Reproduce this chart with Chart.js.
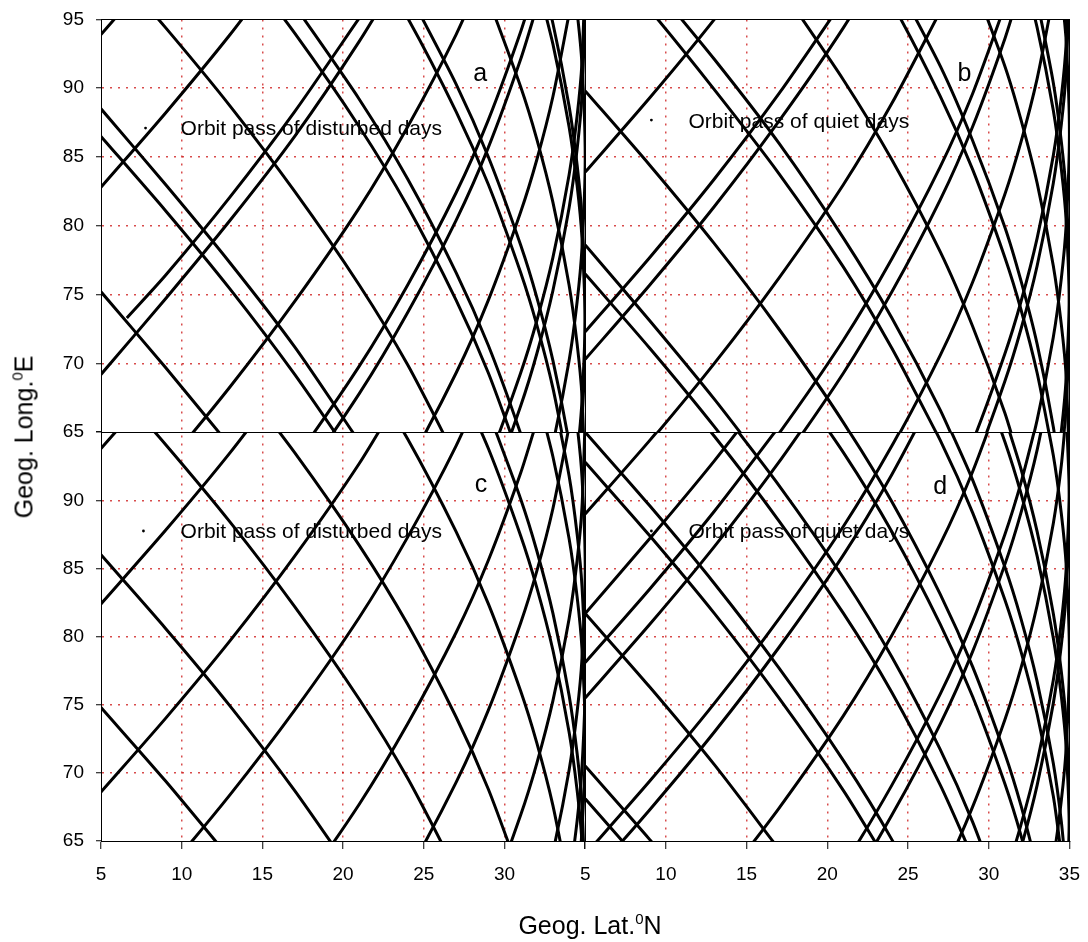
<!DOCTYPE html>
<html>
<head>
<meta charset="utf-8">
<title>Orbit passes</title>
<script src="https://cdn.jsdelivr.net/npm/chart.js@4.4.1/dist/chart.umd.min.js"></script>
<style>
  html, body { margin:0; padding:0; background:#fff; }
  #wrap { position:relative; width:1088px; height:942px; overflow:hidden; font-family:"Liberation Sans", Arial, sans-serif; }
  #chart { position:absolute; left:0; top:-4px; }
  .axt { position:absolute; white-space:nowrap; font-size:25px; color:#000; line-height:1; }
  .axt sup { font-size:15px; vertical-align:10px; line-height:0; }
  #xt { left:590px; top:913px; transform:translate(-50%,0); }
  #yt { left:24px; top:437px; transform:translate(-50%,-50%) rotate(-90deg); }
</style>
</head>
<body>
<div id="wrap">
  <canvas id="chart" width="1094" height="946"></canvas>
  <div class="axt" id="yt">Geog. Long.<sup>0</sup>E</div>
  <div class="axt" id="xt">Geog. Lat.<sup>0</sup>N</div>
</div>
<script>
// ---- tick values ----
const latTicks = [5, 10, 15, 20, 25, 30, 35];
const lonTicks = [65, 70, 75, 80, 85, 90, 95];

// ---- orbit passes: each track is a list of [lat, lon] points ----
const panelA = [
  [[5,93.9],[9,99.3]],
  [[5,99.8],[9,94.4],[13,88.7],[17,82.5],[21,75.7],[24,69.9],[27,63.1]],
  [[5,82.8],[9,88.2],[13,93.9],[17,100.1]],
  [[5,88.5],[9,83.0],[13,77.3],[17,71.2],[21,64.3]],
  [[5,86.5],[9,81.1],[13,75.4],[17,69.2],[21,62.4]],
  [[5,75.2],[9,69.7],[13,64.0]],
  [[5,69.2],[9,74.7],[13,80.4],[17,86.5],[21,93.4],[24,99.2]],
  [[6.6,73.3],[9,76.4],[13,82.1],[17,88.3],[21,95.1]],
  [[13,100.2],[17,94.0],[21,87.2],[24,81.4],[27,74.6],[29,69.3],[31,62.9]],
  [[17,96.0],[21,89.2],[24,83.4],[27,76.6],[29,71.3],[31,64.9],[32,61.1]],
  [[5,57.2],[9,62.6],[13,68.3],[17,74.5],[21,81.3],[24,87.2],[27,93.9],[29,99.2]],
  [[21,100.9],[24,95.1],[27,88.3],[29,83.0],[31,76.6],[32,72.8],[33,68.2],[34,62.2]],
  [[24,97.1],[27,90.3],[29,85.0],[31,78.6],[32,74.8],[33,70.2],[34,64.2],[34.5,59.9]],
  [[13,56.8],[17,63.0],[21,69.8],[24,75.7],[27,82.4],[29,87.7],[31,94.1],[32,97.9]],
  [[13,54.8],[17,61.0],[21,67.8],[24,73.7],[27,80.4],[29,85.7],[31,92.1],[32,95.9]],
  [[17,49.9],[21,56.7],[24,62.6],[27,69.3],[29,74.6],[31,81.0],[32,84.8],[33,89.4],[34,95.4]],
  [[27,55.2],[29,60.5],[31,66.9],[32,70.7],[33,75.3],[34,81.3],[34.5,85.6],[34.8,89.5],[35,96.1]],
  [[27,57.6],[29,62.9],[31,69.3],[32,73.1],[33,77.7],[34,83.7],[34.5,88.0],[34.8,91.9],[35,98.5]],
  [[29,49.4],[31,55.8],[32,59.6],[33,64.2],[34,70.2],[34.5,74.5],[34.8,78.4],[35,85.0],[34.8,91.7],[34.5,95.5],[34,99.8]],
  [[33,51.6],[34,57.6],[34.5,61.9],[34.8,65.8],[35,72.4],[34.8,79.1],[34.5,82.9],[34,87.2],[33,93.2],[32,97.8]],
  [[33,53.1],[34,59.1],[34.5,63.4],[34.8,67.3],[35,73.9],[34.8,80.6],[34.5,84.4],[34,88.7],[33,94.7],[32,99.3]],
  [[29,96.5],[31,90.1],[32,86.3],[33,81.7],[34,75.7],[34.5,71.4],[34.8,67.6],[35,60.9]]
];

const panelB = [
  [[5,89.8],[9,84.4],[13,78.7],[17,72.5],[21,65.7],[24,59.8]],
  [[5,83.9],[9,89.3],[13,95.0],[17,101.2]],
  [[5,101.1],[9,95.7],[13,89.9],[17,83.8],[21,77.0],[24,71.1],[27,64.4]],
  [[9,97.8],[13,92.1],[17,86.0],[21,79.1],[24,73.3],[27,66.6],[29,61.3]],
  [[17,97.5],[21,90.6],[24,84.8],[27,78.1],[29,72.7],[31,66.4],[32,62.5]],
  [[5,72.3],[9,77.7],[13,83.4],[17,89.6],[21,96.4]],
  [[5,70.3],[9,75.7],[13,81.4],[17,87.6],[21,94.4],[24,100.3]],
  [[21,102.0],[24,96.2],[27,89.4],[29,84.1],[31,77.7],[32,73.9],[33,69.3],[34,63.3]],
  [[24,98.3],[27,91.6],[29,86.2],[31,79.9],[32,76.0],[33,71.4],[34,65.4],[34.5,61.1]],
  [[5,58.9],[9,64.3],[13,70.0],[17,76.2],[21,83.0],[24,88.9],[27,95.6]],
  [[29,97.9],[31,91.6],[32,87.7],[33,83.1],[34,77.1],[34.5,72.8],[34.8,69.0],[35,62.3]],
  [[13,58.7],[17,64.9],[21,71.7],[24,77.6],[27,84.3],[29,89.6],[31,96.0]],
  [[13,56.3],[17,62.5],[21,69.3],[24,75.2],[27,81.9],[29,87.2],[31,93.6],[32,97.4]],
  [[5,78.6],[9,73.1],[13,67.4],[17,61.3]],
  [[5,76.5],[9,71.1],[13,65.4],[17,59.2]],
  [[17,51.2],[21,58.0],[24,63.9],[27,70.6],[29,75.9],[31,82.3],[32,86.1],[33,90.7],[34,96.7]],
  [[27,59.0],[29,64.3],[31,70.7],[32,74.5],[33,79.1],[34,85.1],[34.5,89.4],[34.8,93.3],[35,99.9]],
  [[27,57.0],[29,62.3],[31,68.7],[32,72.5],[33,77.1],[34,83.1],[34.5,87.4],[34.8,91.3],[35,97.9]],
  [[31,57.5],[32,61.3],[33,65.9],[34,71.9],[34.5,76.2],[34.8,80.1],[35,86.7],[34.8,93.4],[34.5,97.2]],
  [[32,50.2],[33,54.8],[34,60.8],[34.5,65.1],[34.8,69.0],[35,75.6],[34.8,82.3],[34.5,86.1],[34,90.4],[33,96.4]],
  [[32,48.2],[33,52.8],[34,58.8],[34.5,63.1],[34.8,67.0],[35,73.6],[34.8,80.3],[34.5,84.1],[34,88.4],[33,94.4],[32,99.0]]
];

const panelC = [
  [[5,93.8],[9,99.2]],
  [[5,82.4],[9,87.8],[13,93.5],[17,99.7]],
  [[5,68.6],[9,74.0],[13,79.7],[17,85.9],[21,92.7],[24,98.6]],
  [[5,57.3],[9,62.7],[13,68.4],[17,74.6],[21,81.4],[24,87.3],[27,94.0],[29,99.3]],
  [[13,54.7],[17,60.9],[21,67.7],[24,73.6],[27,80.3],[29,85.6],[31,92.0],[32,95.8]],
  [[17,49.9],[21,56.7],[24,62.6],[27,69.3],[29,74.6],[31,81.0],[32,84.8],[33,89.4],[34,95.4]],
  [[27,55.2],[29,60.5],[31,66.9],[32,70.7],[33,75.3],[34,81.3],[34.5,85.6],[34.8,89.5],[35,96.1]],
  [[29,49.4],[31,55.8],[32,59.6],[33,64.2],[34,70.2],[34.5,74.5],[34.8,78.4],[35,85.0],[34.8,91.7],[34.5,95.5],[34,99.8]],
  [[32,51.6],[33,56.2],[34,62.2],[34.5,66.5],[34.8,70.4],[35,77.0],[34.8,83.7],[34.5,87.5],[34,91.8],[33,97.8]],
  [[33,51.6],[34,57.6],[34.5,61.9],[34.8,65.8],[35,72.4],[34.8,79.1],[34.5,82.9],[34,87.2],[33,93.2],[32,97.8]],
  [[29,96.5],[31,90.1],[32,86.3],[33,81.7],[34,75.7],[34.5,71.4],[34.8,67.6],[35,60.9]],
  [[27,99.1],[29,93.8],[31,87.4],[32,83.6],[33,79.0],[34,73.0],[34.5,68.7],[34.8,64.9],[35,58.2]],
  [[21,100.3],[24,94.5],[27,87.7],[29,82.4],[31,76.0],[32,72.2],[33,67.6],[34,61.6]],
  [[13,99.7],[17,93.5],[21,86.7],[24,80.9],[27,74.1],[29,68.8],[31,62.4]],
  [[5,99.5],[9,94.1],[13,88.4],[17,82.2],[21,75.4],[24,69.6],[27,62.8]],
  [[5,86.0],[9,80.6],[13,74.9],[17,68.7],[21,61.9]],
  [[5,74.8],[9,69.4],[13,63.7]]
];

const panelD = [
  [[5,95.0],[9,89.6],[13,83.9],[17,77.7],[21,70.9],[24,65.1],[27,58.3]],
  [[5,92.8],[9,87.4],[13,81.7],[17,75.5],[21,68.7],[24,62.9]],
  [[5,89.0],[9,94.4],[13,100.1]],
  [[5,81.7],[9,87.2],[13,92.9],[17,99.0]],
  [[9,100.4],[13,94.7],[17,88.5],[21,81.7],[24,75.9],[27,69.1],[29,63.8]],
  [[13,97.3],[17,91.1],[21,84.3],[24,78.5],[27,71.7],[29,66.4],[31,60.0]],
  [[5,75.5],[9,80.9],[13,86.6],[17,92.8],[21,99.6]],
  [[5,78.1],[9,83.5],[13,89.2],[17,95.4]],
  [[17,100.3],[21,93.5],[24,87.7],[27,80.9],[29,75.6],[31,69.2],[32,65.4],[33,60.8]],
  [[17,102.5],[21,95.7],[24,89.9],[27,83.1],[29,77.8],[31,71.4],[32,67.6],[33,63.0]],
  [[5,64.0],[9,69.4],[13,75.1],[17,81.3],[21,88.1],[24,94.0],[27,100.7]],
  [[5,61.9],[9,67.3],[13,73.0],[17,79.2],[21,86.0],[24,91.9],[27,98.6]],
  [[24,101.2],[27,94.4],[29,89.1],[31,82.7],[32,78.9],[33,74.3],[34,68.3],[34.5,64.0]],
  [[27,96.8],[29,91.5],[31,85.1],[32,81.3],[33,76.7],[34,70.7],[34.5,66.4],[34.8,62.6]],
  [[13,61.2],[17,67.4],[21,74.2],[24,80.1],[27,86.8],[29,92.1],[31,98.5]],
  [[29,100.7],[31,94.3],[32,90.5],[33,85.9],[34,79.9],[34.5,75.6],[34.8,71.8],[35,65.1],[34.8,58.5]],
  [[31,96.1],[32,92.3],[33,87.7],[34,81.7],[34.5,77.4],[34.8,73.6],[35,66.9],[34.8,60.3]],
  [[5,70.5],[9,65.1],[13,59.4]],
  [[5,68.1],[9,62.7]],
  [[5,81.7],[9,76.3],[13,70.6],[17,64.4]],
  [[13,50.2],[17,56.4],[21,63.2],[24,69.1],[27,75.8],[29,81.1],[31,87.5],[32,91.3],[33,95.9]],
  [[13,48.0],[17,54.2],[21,61.0],[24,66.9],[27,73.6],[29,78.9],[31,85.3],[32,89.1],[33,93.7],[34,99.7]],
  [[21,49.6],[24,55.5],[27,62.2],[29,67.5],[31,73.9],[32,77.7],[33,82.3],[34,88.3],[34.5,92.6],[34.8,96.5]],
  [[29,56.0],[31,62.4],[32,66.2],[33,70.8],[34,76.8],[34.5,81.1],[34.8,85.0],[35,91.6],[34.8,98.3]],
  [[29,54.3],[31,60.7],[32,64.5],[33,69.1],[34,75.1],[34.5,79.4],[34.8,83.3],[35,89.9],[34.8,96.6]],
  [[32,53.1],[33,57.7],[34,63.7],[34.5,68.0],[34.8,71.9],[35,78.5],[34.8,85.2],[34.5,89.0],[34,93.3],[33,99.3]]
];

// ---- panel texts ----
const panelLetters = ['a', 'b', 'c', 'd'];
const legendLabels = ['Orbit pass of disturbed days', 'Orbit pass of quiet days',
                      'Orbit pass of disturbed days', 'Orbit pass of quiet days'];

// ---- layout / style (not data) ----
const FONT = '"Liberation Sans", Arial, sans-serif';
const GRID = 'rgba(200,0,0,0.7)';
const panelAxes = [['xL','yT'], ['xR','yT'], ['xL','yB'], ['xR','yB']];
const letterAt = [[28.5,90.5], [28.5,90.55], [28.55,90.6], [27.0,90.5]];
const dotAt = [[7.76,87.1], [9.1,87.68], [7.63,87.75], [9.1,87.75]];
const labelAt = [[9.93,86.6], [11.4,87.08], [9.93,87.22], [11.4,87.22]];

const datasets = [];
[panelA, panelB, panelC, panelD].forEach((tracks, i) => {
  tracks.forEach(t => datasets.push({
    data: t.map(p => ({x: p[0], y: p[1]})),
    xAxisID: panelAxes[i][0], yAxisID: panelAxes[i][1],
    showLine: true, borderColor: '#000', borderWidth: 3,
    pointRadius: 0, pointHoverRadius: 0, tension: 0.25, fill: false, clip: 0
  }));
});

function axis(kind, hideVal, weight) {
  const isX = kind === 'x';
  return {
    type: 'linear', position: isX ? 'bottom' : 'left',
    stack: isX ? 'xs' : 'ys', stackWeight: weight,
    min: isX ? 5 : 65, max: isX ? 35 : 95,
    afterBuildTicks: s => { s.ticks = (isX ? latTicks : lonTicks).map(v => ({value: v})); },
    afterFit: s => { if (isX) { s.height = 101; } else { s.width = 101; } },
    ticks: {
      autoSkip: false, maxRotation: 0, minRotation: 0, color: '#000',
      font: {family: FONT, size: 19}, padding: isX ? 14 : 12,
      callback: v => (v === hideVal ? '' : String(v))
    },
    grid: {
      drawOnChartArea: true, lineWidth: 1.5,
      color: c => (c.tick && (c.tick.value === c.scale.min || c.tick.value === c.scale.max)) ? 'rgba(0,0,0,0)' : GRID,
      tickLength: isX ? 8 : 5, tickColor: '#000', tickWidth: 1, tickBorderDash: []
    },
    border: {display: true, color: '#000', width: 1, dash: [2, 6]}
  };
}

const framePlugin = {
  id: 'frames',
  afterDatasetsDraw(chart) {
    const ctx = chart.ctx, s = chart.scales;
    ctx.save();
    panelAxes.forEach((ax, i) => {
      const X = s[ax[0]], Y = s[ax[1]];
      const l = Math.round(X.left) + 0.5, r = Math.round(X.right) + 0.5;
      const t = Math.round(Y.top) + 0.5, b = Math.round(Y.bottom) + 0.5;
      ctx.strokeStyle = '#000'; ctx.lineWidth = 1; ctx.setLineDash([]);
      ctx.strokeRect(l, t, r - l, b - t);
      ctx.fillStyle = '#000';
      ctx.font = '25px ' + FONT; ctx.textAlign = 'center'; ctx.textBaseline = 'alphabetic';
      ctx.fillText(panelLetters[i], X.getPixelForValue(letterAt[i][0]), Y.getPixelForValue(letterAt[i][1]));
      ctx.beginPath();
      ctx.arc(X.getPixelForValue(dotAt[i][0]), Y.getPixelForValue(dotAt[i][1]), 1.4, 0, Math.PI * 2);
      ctx.fill();
      ctx.font = '21px ' + FONT; ctx.textAlign = 'left';
      ctx.fillText(legendLabels[i], X.getPixelForValue(labelAt[i][0]), Y.getPixelForValue(labelAt[i][1]));
    });
    ctx.restore();
  }
};

new Chart(document.getElementById('chart'), {
  type: 'scatter',
  data: {datasets},
  options: {
    responsive: false, animation: false, devicePixelRatio: 1,
    layout: {padding: {left: 0, top: 16, right: 15, bottom: 0}},
    plugins: {legend: {display: false}, tooltip: {enabled: false}, title: {display: false}},
    events: [],
    scales: {
      xL: axis('x', 35, 1),
      xR: axis('x', null, 1),
      yB: axis('y', 95, 409),
      yT: axis('y', null, 413)
    }
  },
  plugins: [framePlugin]
});
</script>
</body>
</html>
